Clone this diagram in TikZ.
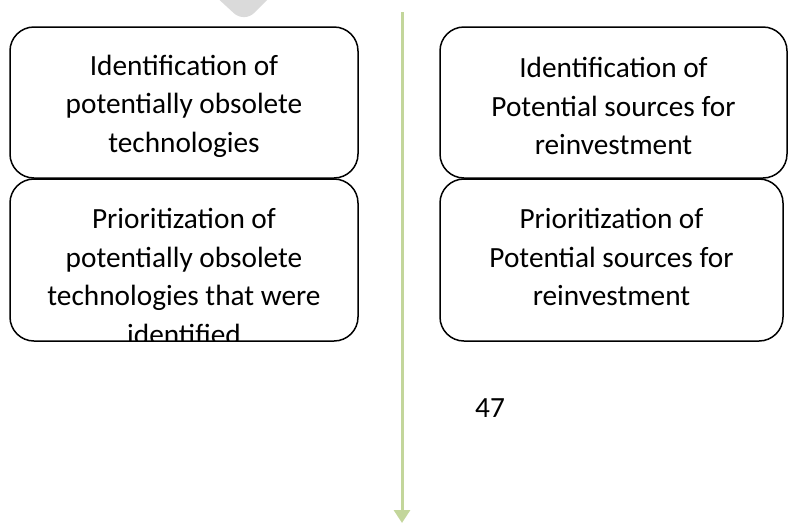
\documentclass[tikz,border=0pt]{standalone}
\usepackage{fontspec}
\setmainfont{Carlito}
\usetikzlibrary{arrows.meta}
\definecolor{flowgreen}{RGB}{195,214,155}
\definecolor{chevgray}{RGB}{218,218,218}
\begin{document}
\begin{tikzpicture}[x=1pt,y=-1pt,
    stagebox/.style={draw, line width=1.5pt, rounded corners=24pt, inner sep=0pt},
    boxtext/.style={align=center, font=\fontsize{29.3}{38.5}\selectfont, inner sep=0pt}]
        \useasboundingbox (0,0) rectangle (788,523);

        % Grey chevron at the top
        \fill[chevgray, rounded corners=5pt] (213,-6) -- (238,17) -- (250,17) -- (273,-6) -- cycle;

        % Define arrow end points
        \coordinate (top) at (402,12);
        \coordinate (bottom) at (402,523);

        % Draw the flow arrow
        \draw[flowgreen, line width=3pt, -{Triangle[width=16pt,length=13pt]}] (top) -- (bottom);

        % Left boxes
        \node[stagebox, minimum width=348pt, minimum height=151pt] (idobs) at (184,102.5) {};
        \node[boxtext] (idobstext) at (184,106) {Identification of\\potentially obsolete\\technologies};
        \node[stagebox, minimum width=348pt, minimum height=162pt] (priobs) at (184,260) {};
        \begin{scope}
            \clip[rounded corners=24pt] (priobs.north west) rectangle (priobs.south east);
            \node[boxtext] (priobstext) at (184,276.5) {Prioritization of\\potentially obsolete\\technologies that were\\identified};
        \end{scope}

        % Right boxes
        \node[stagebox, minimum width=347pt, minimum height=151pt] (idsrc) at (613.5,102.5) {};
        \node[boxtext] (idsrctext) at (613.5,106) {Identification of\\Potential sources for\\reinvestment};
        \node[stagebox, minimum width=343pt, minimum height=162pt] (prisrc) at (611.5,260) {};
        \node[boxtext] (prisrctext) at (611.5,257) {Prioritization of\\Potential sources for\\reinvestment};

        % Page number
        \node[boxtext] (pagenum) at (490,408) {47};
\end{tikzpicture}
\end{document}
